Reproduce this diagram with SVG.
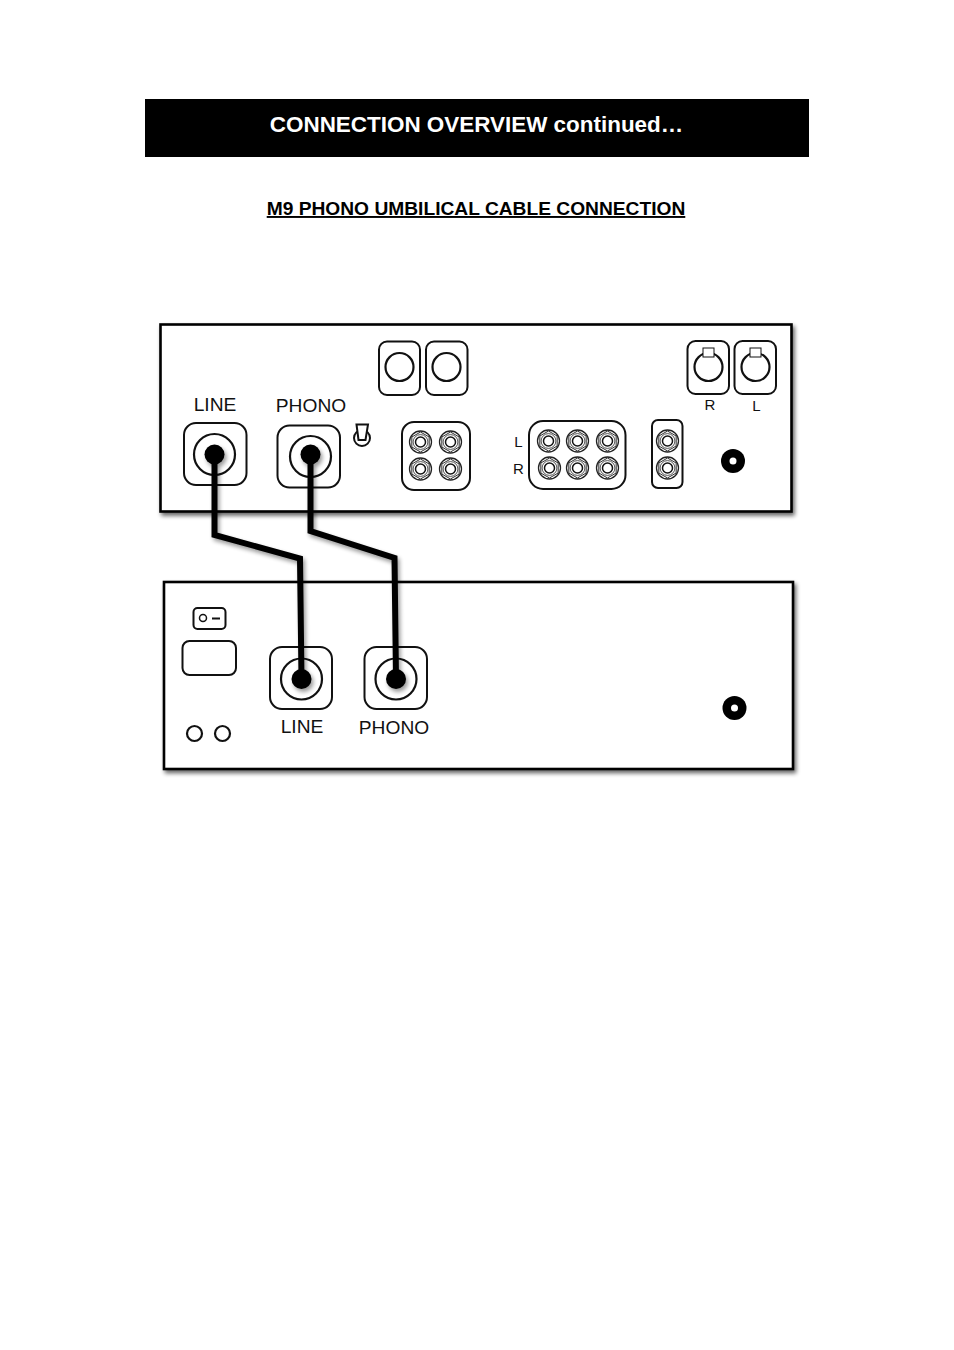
<svg xmlns="http://www.w3.org/2000/svg" width="954" height="1350" viewBox="0 0 954 1350">
<defs>
<filter id="sh" x="-5%" y="-5%" width="110%" height="115%"><feGaussianBlur in="SourceAlpha" stdDeviation="2"/><feOffset dx="2" dy="3"/><feComponentTransfer><feFuncA type="linear" slope="0.6"/></feComponentTransfer><feMerge><feMergeNode/><feMergeNode in="SourceGraphic"/></feMerge></filter>
<filter id="csh" x="-20%" y="-20%" width="140%" height="140%"><feGaussianBlur in="SourceAlpha" stdDeviation="2"/><feOffset dx="2" dy="3"/><feComponentTransfer><feFuncA type="linear" slope="0.4"/></feComponentTransfer><feMerge><feMergeNode/><feMergeNode in="SourceGraphic"/></feMerge></filter>
<g id="rca"><circle r="11" fill="#fff" stroke="#222" stroke-width="1.300"/><path d="M0-10 8.700-5V5L0 10-8.700 5V-5Z" fill="#f2f2f2" stroke="#333" stroke-width="1"/><circle r="7.400" fill="#fff" stroke="#444" stroke-width="0.900"/><circle r="5" fill="#fff" stroke="#111" stroke-width="1.500"/></g>
</defs>
<style>
text{font-family:"Liberation Sans",Arial,sans-serif;fill:#111}
.panel{fill:#fff;stroke:#000;stroke-width:2.600}
.box{fill:#fff;stroke:#111;stroke-width:2}
.ring{fill:#fff;stroke:#111;stroke-width:2.200}
.lab{font-size:19.200px;text-anchor:middle}
.small{font-size:15px;text-anchor:middle}
.cable{fill:none;stroke:#000;stroke-width:6;stroke-linejoin:miter}
</style>
<rect width="954" height="1350" fill="#fff"/>
<g id="header"><rect x="145" y="99" width="664" height="58" fill="#000"/><text x="476.500" y="132" font-size="22.450" font-weight="700" text-anchor="middle" style="fill:#fff">CONNECTION OVERVIEW continued…</text></g>
<g id="subtitle"><text x="476" y="215" font-size="19.200" font-weight="700" text-anchor="middle" text-decoration="underline" style="fill:#000">M9 PHONO UMBILICAL CABLE CONNECTION</text></g>
<g id="upper-unit">
<rect class="panel" x="160.500" y="324.500" width="631" height="187" filter="url(#sh)"/>
<g id="upper-line"><rect class="box" x="184" y="423" width="62.500" height="62" rx="12"/><circle class="ring" cx="214.500" cy="454.500" r="20.500"/><text class="lab" x="215" y="410.500">LINE</text></g>
<g id="upper-phono"><rect class="box" x="277.500" y="425.500" width="62.500" height="62" rx="12"/><circle class="ring" cx="310.500" cy="456.500" r="20.500"/><text class="lab" x="311" y="412">PHONO</text></g>
<g id="toggle"><circle cx="362" cy="438" r="8" fill="#fff" stroke="#111" stroke-width="2"/><path d="M356.500 424.500H368L365.500 440H358.500Z" fill="#fff" stroke="#111" stroke-width="2"/></g>
<g id="upper-sq1"><rect class="box" x="379" y="341.500" width="41" height="53.500" rx="8"/><circle class="ring" cx="399.500" cy="367" r="14"/></g>
<g id="upper-sq2"><rect class="box" x="426" y="341.500" width="41.500" height="53.500" rx="8"/><circle class="ring" cx="446.500" cy="367" r="14"/></g>
<g id="rca-block-4"><rect class="box" x="402" y="422" width="68" height="68" rx="12"/><use href="#rca" x="420.500" y="442"/><use href="#rca" x="450.500" y="442"/><use href="#rca" x="420.500" y="469"/><use href="#rca" x="450.500" y="469"/></g>
<g id="rca-block-6"><rect class="box" x="529" y="421" width="96.500" height="68" rx="14"/><use href="#rca" x="548.500" y="441"/><use href="#rca" x="577.500" y="441"/><use href="#rca" x="607.500" y="441"/><use href="#rca" x="549.500" y="468"/><use href="#rca" x="577.500" y="468"/><use href="#rca" x="607.500" y="468"/><text class="small" x="518.500" y="447">L</text><text class="small" x="518.500" y="474">R</text></g>
<g id="rca-block-2"><rect class="box" x="652" y="420" width="30.500" height="68" rx="6"/><use href="#rca" x="667.500" y="441"/><use href="#rca" x="667.500" y="468"/></g>
<g id="xlr-r"><rect class="box" x="687.500" y="341" width="41.500" height="53" rx="8"/><circle class="ring" cx="708.500" cy="367" r="14"/><rect x="703" y="348" width="11" height="9" fill="#fff" stroke="#111" stroke-width="1"/><text class="small" x="710" y="410">R</text></g>
<g id="xlr-l"><rect class="box" x="734.500" y="341" width="41.500" height="53" rx="8"/><circle class="ring" cx="755.500" cy="367" r="14"/><rect x="750" y="348" width="11" height="9" fill="#fff" stroke="#111" stroke-width="1"/><text class="small" x="756.500" y="411">L</text></g>
<g id="upper-jack"><circle cx="733" cy="461" r="12" fill="#000"/><circle cx="733" cy="461" r="3.500" fill="#fff"/></g>
</g>
<g id="lower-unit">
<rect class="panel" x="164" y="582" width="629" height="187" filter="url(#sh)"/>
<g id="switch"><rect x="193.500" y="608" width="32" height="21" rx="4" class="box"/><circle cx="203" cy="618" r="3.500" fill="#fff" stroke="#111" stroke-width="1.500"/><path d="M212 618.500H220" stroke="#111" stroke-width="2"/></g>
<g id="inlet"><rect class="box" x="182.500" y="641" width="53.500" height="34" rx="7"/></g>
<g id="led1"><circle class="ring" cx="194.500" cy="733.500" r="7.500"/></g>
<g id="led2"><circle class="ring" cx="222.500" cy="733.500" r="7.500"/></g>
<g id="lower-line"><rect class="box" x="270" y="647" width="62" height="62" rx="12"/><circle class="ring" cx="301.500" cy="679" r="20.500"/><text class="lab" x="302" y="732.500">LINE</text></g>
<g id="lower-phono"><rect class="box" x="364.500" y="647" width="62.500" height="62" rx="12"/><circle class="ring" cx="396" cy="679" r="20.500"/><text class="lab" x="394" y="734">PHONO</text></g>
<g id="lower-jack"><circle cx="734.500" cy="708" r="12" fill="#000"/><circle cx="734.500" cy="708" r="3.500" fill="#fff"/></g>
</g>
<g id="connectors" filter="url(#csh)">
<circle cx="214.500" cy="454.500" r="10"/><circle cx="310.500" cy="454.500" r="10"/><circle cx="301.500" cy="679" r="10"/><circle cx="396" cy="679" r="10"/>
<path class="cable" d="M214.500 454.500V535L300 558.500 301.500 679"/>
<path class="cable" d="M310.500 454.500V531L394.500 558 396 679"/>
</g>
</svg>
